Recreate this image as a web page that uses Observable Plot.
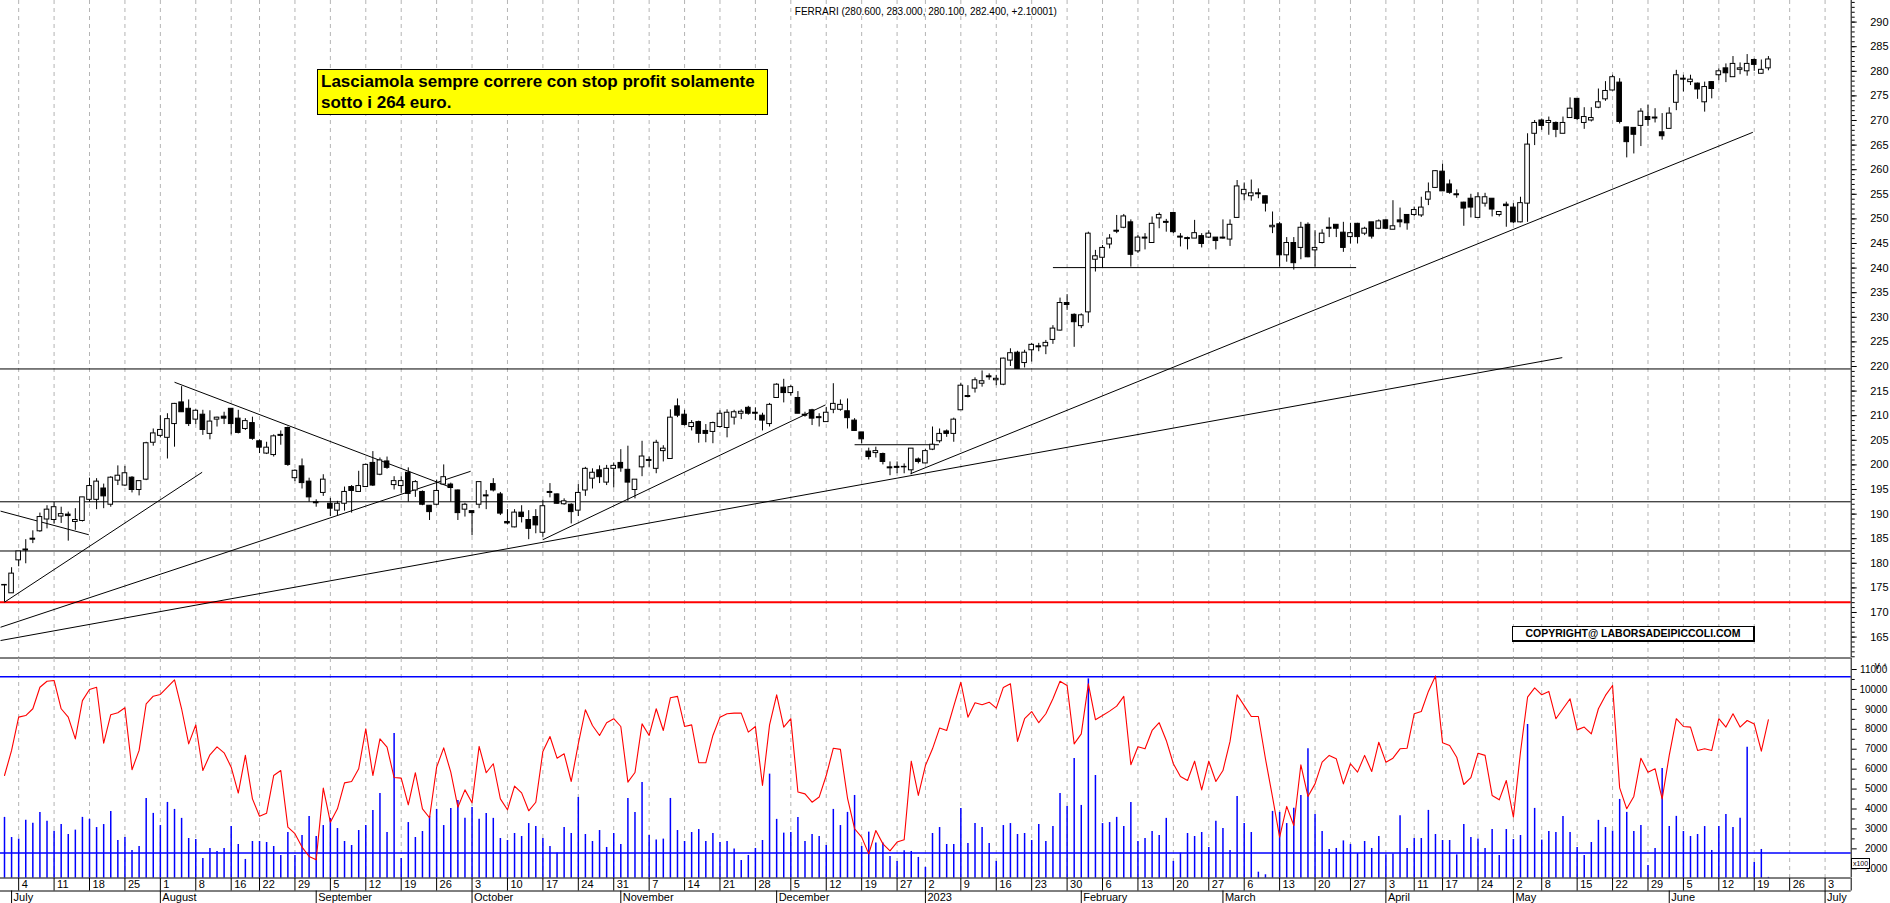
<!DOCTYPE html>
<html>
<head>
<meta charset="utf-8">
<script src="https://cdn.jsdelivr.net/npm/d3@7"></script>
<script src="https://cdn.jsdelivr.net/npm/@observablehq/plot@0.6"></script>
<style>
  html, body { margin:0; padding:0; background:#fff; }
  #chart { position:relative; width:1890px; height:903px; overflow:hidden; font-family:"Liberation Sans", Arial, sans-serif; }
  #chart svg { display:block; }
  .note { position:absolute; left:317px; top:69px; width:446px; height:43px; background:#ffff00; border:1.5px solid #000;
          font-weight:bold; font-size:17px; line-height:21px; padding:1px 0 0 3px; color:#000; white-space:nowrap; }
  .copy { position:absolute; left:1512px; top:626px; width:240px; height:13px; border:1px solid #000; border-right-width:2px; border-bottom-width:2px;
          background:#fff; font-weight:bold; font-size:10.5px; line-height:13px; text-align:center; color:#000; white-space:nowrap; }
  .x100 { position:absolute; left:1851px; top:858px; width:17px; height:9px; border:1px solid #000; background:#fff;
          font-size:7px; line-height:9px; text-align:center; color:#000; }
</style>
</head>
<body>
<div id="chart"></div>
<script>
// ---------- data ----------
const opens = [
175.5,173.9,180.6,182.8,185.0,186.5,188.9,188.8,189.5,189.9,
188.4,188.6,192.9,192.9,195.2,191.9,196.8,195.8,197.4,194.9,
197.0,204.5,205.9,205.5,208.3,212.7,211.4,209.2,210.2,206.3,
209.2,209.8,211.4,209.4,207.3,208.5,204.8,202.3,202.0,206.1,
207.5,197.3,199.7,196.6,192.4,194.3,192.1,190.7,192.1,195.5,
194.5,195.5,200.4,198.0,200.7,195.9,195.7,198.4,194.8,194.5,
191.7,191.9,196.0,196.0,194.8,190.9,190.6,191.9,193.8,196.1,
194.0,188.4,187.3,190.3,188.8,189.4,186.2,194.5,194.0,192.0,
191.9,190.7,194.8,197.2,198.9,196.4,199.2,200.4,199.0,194.9,
199.5,200.8,199.2,202.8,201.2,211.9,210.2,207.7,208.7,206.9,
206.7,207.7,207.5,209.6,210.4,211.6,210.6,210.0,208.3,213.6,
215.7,214.6,213.6,210.2,211.1,209.7,208.7,211.2,211.2,210.9,
209.0,206.6,202.7,202.4,202.2,199.5,199.6,199.6,198.9,201.1,
200.3,203.1,204.8,206.8,206.3,211.1,214.0,215.5,216.5,218.0,
217.2,216.3,221.2,222.8,220.7,223.3,224.1,224.1,225.4,227.3,
232.9,230.5,228.2,231.0,241.7,242.1,244.8,247.6,248.2,249.3,
243.4,246.2,245.1,250.1,249.4,251.2,246.4,246.1,246.0,246.5,
246.2,246.2,246.2,245.8,250.2,255.0,254.6,255.2,254.6,248.3,
248.9,242.6,245.1,244.1,248.8,243.6,245.1,248.2,248.8,247.2,
246.3,249.0,247.0,249.3,248.0,249.7,247.8,249.7,250.8,250.8,
250.7,253.9,256.3,259.6,257.0,255.0,253.3,254.1,250.2,253.1,
254.1,250.8,252.9,252.3,249.3,253.1,267.3,270.0,269.5,269.5,
267.3,270.5,274.4,269.5,270.0,272.6,274.3,276.1,277.7,268.6,
268.5,268.9,270.7,270.6,267.6,268.3,273.6,278.5,277.8,277.5,
273.7,277.8,279.2,280.6,278.8,280.3,280.0,282.3,279.5,280.6];
const highs = [
175.7,179.1,182.4,184.8,186.6,190.2,191.7,192.4,191.4,190.4,
191.1,193.4,197.3,197.2,196.1,197.6,199.8,199.7,197.6,196.8,
204.6,207.3,210.0,210.4,212.5,215.9,213.2,211.2,211.1,211.0,
209.7,210.7,211.4,211.1,209.4,209.7,205.1,204.6,206.1,206.9,
207.7,199.0,201.2,197.3,192.9,198.0,193.2,192.6,195.5,195.8,
198.7,200.2,202.7,201.4,201.6,197.6,197.6,199.4,196.8,194.7,
191.7,196.9,200.0,196.3,194.9,192.2,190.6,196.5,194.8,197.2,
194.4,190.9,190.9,191.7,190.7,190.9,192.8,196.2,194.1,193.1,
192.1,196.0,199.5,199.2,199.8,199.9,200.4,203.1,203.8,197.0,
204.8,201.6,205.0,203.9,211.2,213.4,211.1,209.0,208.9,208.2,
208.7,211.0,211.2,211.1,211.2,211.9,211.6,210.5,212.5,216.5,
217.4,216.1,214.9,210.7,211.3,210.4,211.7,216.5,213.2,213.4,
209.4,206.6,203.4,203.6,202.4,200.6,200.6,200.2,203.3,201.4,
203.1,207.7,207.3,207.1,209.5,216.6,216.1,217.7,219.1,218.5,
218.2,221.7,223.6,223.1,223.3,224.7,224.7,225.3,228.3,233.9,
234.6,230.7,230.7,247.3,243.6,244.6,246.8,250.7,250.9,249.8,
246.6,247.0,250.4,251.2,249.9,251.2,247.0,246.3,249.7,247.0,
247.6,246.2,249.8,249.8,257.8,257.3,257.9,256.1,254.6,251.4,
249.3,246.2,246.2,249.3,249.2,247.6,247.8,250.2,248.8,249.3,
249.1,249.1,248.3,249.3,249.8,249.8,253.7,252.2,250.8,252.4,
254.4,257.3,259.8,261.1,257.9,255.9,253.4,255.0,255.3,255.2,
254.1,251.5,253.4,253.1,254.4,267.3,270.0,270.3,270.7,269.7,
270.7,274.6,274.4,272.6,272.6,276.4,277.9,279.2,278.5,268.6,
268.5,272.4,273.1,272.4,271.4,272.6,280.2,279.2,279.2,277.6,
277.8,277.9,280.5,281.5,283.0,281.7,283.4,282.5,282.3,283.0];
const lows = [
172.1,173.9,179.3,179.9,184.0,186.3,187.0,188.0,188.1,184.5,
186.7,188.4,192.4,190.9,191.1,191.4,195.8,195.6,194.3,193.7,
196.8,203.8,205.5,201.2,203.6,210.7,207.8,208.2,206.0,205.1,
207.7,208.2,206.1,206.3,207.0,205.0,202.3,202.1,201.6,204.0,
199.7,196.6,195.1,192.4,191.4,193.6,189.5,189.6,190.6,190.2,
194.5,195.5,195.6,197.8,199.1,194.9,194.1,192.4,193.4,191.7,
188.7,191.7,195.8,192.4,188.7,189.4,185.6,191.1,190.9,194.5,
189.7,187.8,187.2,188.2,184.8,186.0,185.3,193.3,192.0,191.8,
188.0,189.5,193.6,195.1,196.2,195.8,195.3,198.5,192.6,193.1,
197.6,199.5,198.2,200.6,201.2,209.6,207.9,206.9,204.4,204.5,
204.3,207.5,205.5,208.1,209.2,210.1,209.0,206.9,207.7,213.6,
212.6,214.0,210.4,209.7,208.0,207.7,208.7,210.4,210.9,207.3,
206.9,204.3,201.0,201.4,200.0,197.8,198.2,198.2,198.0,200.2,
200.2,202.9,204.4,205.6,204.6,211.1,213.6,214.6,215.8,217.2,
216.1,216.1,220.0,219.5,219.7,220.9,223.0,222.4,224.5,227.2,
231.4,223.9,227.7,228.8,239.2,239.9,243.9,247.0,248.0,240.2,
243.0,243.7,245.1,248.0,247.3,247.0,244.3,243.7,246.0,244.1,
246.0,243.7,245.9,244.4,250.2,253.7,253.6,254.1,251.4,247.0,
240.2,241.2,239.6,241.7,242.1,240.2,244.9,246.2,246.2,243.2,
244.9,244.9,246.6,245.9,247.8,247.8,247.8,248.2,247.7,250.5,
250.3,252.7,256.3,255.6,255.0,254.2,248.5,250.2,250.2,252.4,
250.4,250.4,248.3,249.0,249.2,249.3,264.9,268.0,267.0,266.5,
267.3,270.5,270.0,268.2,269.7,272.4,273.9,276.0,269.3,262.4,
263.2,264.7,268.8,269.5,266.0,268.3,272.0,275.8,277.1,274.3,
271.7,274.4,278.1,277.7,278.8,279.3,279.0,280.0,279.4,280.1];
const closes = [
175.6,177.9,182.4,182.6,184.8,189.4,190.9,191.4,190.0,189.6,
188.8,193.4,195.7,196.6,193.6,197.4,197.8,198.3,194.9,196.7,
204.4,206.4,207.1,209.3,212.4,210.7,208.3,211.0,207.1,208.8,
209.6,209.4,208.3,206.5,208.9,205.3,203.5,203.5,205.8,205.9,
200.0,198.8,196.3,193.4,192.2,197.0,191.1,192.1,194.5,194.7,
195.7,200.0,195.8,200.9,199.4,196.7,196.7,194.1,196.5,191.9,
190.4,194.7,197.5,195.3,190.2,191.9,190.2,196.5,193.6,194.8,
190.1,188.1,190.3,189.4,187.0,187.7,191.6,194.3,192.1,192.6,
190.4,194.3,199.2,198.4,197.5,199.2,199.8,199.3,196.4,197.0,
201.7,201.0,204.5,203.3,209.6,210.0,208.1,208.5,206.3,206.3,
208.5,210.4,210.6,210.7,210.8,210.4,210.4,209.0,212.2,216.3,
214.6,215.8,210.4,210.0,209.4,209.5,210.6,212.4,212.2,209.5,
206.9,205.2,201.6,202.8,200.6,199.3,199.4,199.5,203.3,200.6,
202.8,204.1,206.3,206.3,209.2,216.1,213.8,217.2,217.0,217.8,
217.5,221.6,222.7,219.5,222.8,224.4,223.9,224.8,227.7,232.9,
232.5,229.0,230.4,247.0,242.4,244.1,246.0,247.4,250.5,242.7,
246.2,246.0,249.0,250.8,249.2,247.3,246.2,245.9,247.1,244.9,
247.0,245.5,246.0,248.8,256.6,255.9,255.2,255.0,253.1,248.6,
242.6,245.1,241.0,248.2,242.2,244.1,247.0,248.0,248.0,244.1,
247.1,246.3,248.0,246.4,249.5,248.0,248.5,249.3,249.1,251.8,
252.3,255.4,259.7,255.6,255.3,254.8,252.1,252.3,254.4,254.4,
251.9,251.4,252.6,249.3,253.2,265.1,269.5,268.9,269.9,268.1,
269.5,272.4,270.3,270.7,270.5,273.7,276.0,278.8,269.7,265.6,
267.1,271.8,270.1,270.4,266.8,271.4,279.2,278.3,278.3,276.3,
276.8,276.4,280.0,279.6,281.5,280.6,281.5,281.3,280.3,282.4];
// volume (x100)
const volumes = [
3580,2570,2490,3440,3290,3830,3390,2890,3220,2720,
2940,3580,3480,3070,3220,3880,2420,2570,1920,2120,
4530,3780,3170,4330,3980,3530,2520,2470,1520,2020,
1870,2020,3120,2220,1470,2370,2370,2320,2120,1670,
2820,1670,2670,3630,2620,3170,3530,3020,2370,2170,
2920,3170,3930,4780,2820,7790,1520,3320,2570,2870,
3630,3980,3170,4030,4430,3530,4080,3480,3780,3530,
2520,2420,2770,2620,3270,3120,2520,2120,1790,3070,
2770,4580,2720,2370,2920,2070,2770,2220,4530,3830,
5330,2670,2440,2490,4530,2920,2370,2820,2970,2370,
2770,2320,2370,1990,1420,1670,2020,2420,5750,3480,
2790,2820,3580,2370,2720,2620,2170,3980,3170,3830,
4680,2120,2840,2290,2290,1620,1370,1900,1870,1570,
1070,2770,3070,2220,2220,4030,2270,3270,3070,2270,
1370,3170,3270,2720,2770,2420,3220,2370,3120,4780,
4130,6540,4180,10530,5680,3270,3320,3580,3120,4330,
2370,2520,2870,2670,3530,1370,1790,2770,2620,2820,
2070,3380,3020,1920,4630,3270,2820,830,700,3880,
3830,3270,4040,4680,7020,3730,2870,1970,2020,2400,
2220,1770,2370,2020,2620,1700,1740,3660,2020,2520,
2520,3930,2720,2420,2420,1700,3220,2570,2490,2020,
2970,1670,2970,2470,2670,8240,4030,2440,2870,2820,
3630,2820,2070,1670,2320,3430,3070,2890,4480,3830,
2870,3170,1170,2020,6030,3120,3630,2870,2620,2720,
3120,1920,3120,3730,3070,3530,7100,1320,1970,570];
// red oscillator line, drawn on the volume scale
const oscillator = [
5680,6940,8610,8690,9030,10110,10410,10450,9030,8610,
7520,9440,10000,10110,7300,8730,8830,9080,5970,6940,
9280,9660,9750,10110,10480,9030,7270,8220,5930,6720,
7120,6820,6100,4800,6690,4510,3640,3790,5680,5930,
3090,2760,2090,1620,1450,5050,3340,4010,5310,5380,
6020,8020,5680,7520,7100,5580,5550,4210,5820,4010,
3560,6100,7070,5850,4090,4960,4310,7140,5820,6270,
4510,3960,5150,4810,3910,4340,6890,7640,6550,6770,
5380,7270,8980,8190,7690,8330,8530,8140,5350,5830,
8270,7690,9030,7940,9580,9650,8140,8220,6320,6320,
7690,8610,8780,8810,8810,7860,8140,5180,8220,9730,
8110,8530,4850,4760,4340,4600,5680,7050,6990,4550,
3010,2590,1750,2920,2250,1900,2340,2460,6400,4680,
6180,7020,8060,7940,9160,10360,8610,9330,9230,9360,
9060,10100,10280,7390,8530,8890,8330,8780,9530,10410,
10200,7270,7770,10280,8480,8690,8910,9160,9650,6220,
7120,7020,7940,8330,7440,6270,5630,5430,6400,4960,
6400,5380,5930,7390,9730,9190,8640,8640,6520,4600,
2590,4130,3170,6220,4630,5260,6350,6690,6520,5260,
6270,5850,6690,5880,7350,6350,6550,7020,7050,8780,
8890,9900,10670,7320,7190,6600,5230,5570,6800,6690,
4680,4460,5430,3590,6850,9610,10080,9730,9900,8530,
9030,9530,7970,8110,7770,9030,9700,10200,5060,4010,
4630,6550,5850,6020,4510,6690,8530,8140,8110,6940,
7020,6940,8530,8110,8780,8110,8440,8270,6900,8480];

// x axis: bar index of each weekly tick and month start
const weekLabels = ["4","11","18","25","1","8","16","22","29","5","12","19","26","3","10","17","24","31","7","14","21","28",
  "5","12","19","27","2","9","16","23","30","6","13","20","27","6","13","20","27","3","11","17","24","2","8","15","22","29",
  "5","12","19","26","3"];
const weekIndex = [2,7,12,17,22,27,32,36,41,46,51,56,61,66,71,76,81,86,91,96,101,106,
  111,116,121,126,130,135,140,145,150,155,160,165,170,175,180,185,190,195,199,203,208,213,217,222,227,232,
  237,242,247,252,257];
const monthLabels = ["July","August","September","October","November","December","2023","February","March","April","May","June","July"];
const monthIndex = [1,22,44,66,87,109,130,152,172,195,213,235,257];

// price levels and drawn trend lines (bar index, price)
const supportLevels = [219.5, 192.5, 182.5];
const redLevel = 172.1;
const trendLines = [
  {i1: 0,     p1: 172.1, i2: 27.9,  p2: 198.5},
  {i1: -0.56, p1: 190.6, i2: 11.9,  p2: 185.8},
  {i1: 24.0,  p1: 216.8, i2: 62.7,  p2: 195.6},
  {i1: -0.56, p1: 167.0, i2: 65.8,  p2: 198.7},
  {i1: -0.56, p1: 164.3, i2: 219.9, p2: 221.8},
  {i1: 76.0,  p1: 184.8, i2: 115.9, p2: 212.2},
  {i1: 120.0, p1: 204.1, i2: 131.9, p2: 204.1},
  {i1: 148.0, p1: 240.1, i2: 190.8, p2: 240.1},
  {i1: 127.9, p1: 198.2, i2: 246.8, p2: 267.6}
];
const oscLevels = [10630, 1790];
const priceTicks = d3.range(165, 291, 5);
const volTicks = d3.range(1000, 11001, 1000);
const title = "FERRARI (280.600, 283.000, 280.100, 282.400, +2.10001)";
const noteLines = ["Lasciamola sempre correre con stop profit solamente", "sotto i 264 euro."];
const copyright = "COPYRIGHT@ LABORSADEIPICCOLI.COM";

// ---------- layout ----------
const W = 1890, AXIS_X = 1850.7, FIRST_X = 4, BAR_PX = 7.084;
const xDomain = [-FIRST_X / BAR_PX, (AXIS_X - FIRST_X) / BAR_PX];
const priceDomain = [160.75, 294.39];
const volDomain = [538, 11552];
const HALF = 2.3 / BAR_PX;
const font = "'Liberation Sans', Arial, sans-serif";

const candles = opens.map((o, i) => ({i, open: o, high: highs[i], low: lows[i], close: closes[i]}));
const volData = volumes.map((v, i) => ({i, v}));
const oscData = oscillator.map((v, i) => ({i, v}));
const weekTicks = weekLabels.map((label, k) => ({label, i: weekIndex[k]}));
const monthTicks = monthLabels.map((label, k) => ({label, i: monthIndex[k]}));
const grid = {x: "i", stroke: "#b4b4b4", strokeDasharray: "4,4"};
const baseStyle = {fontFamily: font, fontSize: "11px", color: "#000", background: "#fff", overflow: "visible"};

const price = Plot.plot({
  width: W, height: 658, marginLeft: 0, marginRight: W - AXIS_X, marginTop: 0, marginBottom: 0.5,
  style: baseStyle,
  x: {domain: xDomain, axis: null},
  y: {domain: priceDomain, axis: null},
  marks: [
    Plot.ruleX(weekTicks, grid),
    Plot.ruleY(supportLevels, {stroke: "#000"}),
    Plot.ruleY([redLevel], {stroke: "#ff0000", strokeWidth: 2}),
    Plot.ruleY([priceDomain[0]], {stroke: "#000"}),
    Plot.link(trendLines, {x1: "i1", y1: "p1", x2: "i2", y2: "p2", stroke: "#000", strokeWidth: 1}),
    Plot.ruleX(candles, {x: "i", y1: "low", y2: "high", stroke: "#000"}),
    Plot.rect(candles, {x1: d => d.i - HALF, x2: d => d.i + HALF, y1: "open", y2: "close",
      fill: d => d.close >= d.open ? "#fff" : "#000", stroke: "#000", strokeWidth: 1}),
    Plot.axisY(d3.range(161, 295), {anchor: "right", tickSize: 3, fill: "none", stroke: "#000"}),
    Plot.axisY(priceTicks, {anchor: "right", tickSize: 5, tickPadding: 14, fontSize: 11, tickFormat: d => String(d)}),
    Plot.ruleX([xDomain[1]], {stroke: "#000"}),
    Plot.text([title], {frameAnchor: "top", dy: 7, fontSize: 10, fill: "#000"})
  ]
});

const volume = Plot.plot({
  width: W, height: 220, marginLeft: 0, marginRight: W - AXIS_X, marginTop: 0, marginBottom: 0.5,
  style: baseStyle,
  x: {domain: xDomain, axis: null},
  y: {domain: volDomain, axis: null},
  marks: [
    Plot.ruleX(weekTicks, grid),
    Plot.ruleX(volData, {x: "i", y1: volDomain[0], y2: "v", stroke: "#0000ff", strokeWidth: 1.5}),
    Plot.ruleY(oscLevels, {stroke: "#0000ff", strokeWidth: 1.5}),
    Plot.line(oscData, {x: "i", y: "v", stroke: "#ff0000", strokeWidth: 1.1}),
    Plot.ruleY([volDomain[0]], {stroke: "#000"}),
    Plot.axisY(d3.range(1500, 11001, 1000), {anchor: "right", tickSize: 3, fill: "none", stroke: "#000"}),
    Plot.axisY(volTicks, {anchor: "right", tickSize: 5, tickPadding: 31, textAnchor: "end", fontSize: 10, tickFormat: d => String(d)}),
    Plot.ruleX([xDomain[1]], {stroke: "#000"})
  ]
});

const xaxis = Plot.plot({
  width: W, height: 25, marginLeft: 0, marginRight: W - AXIS_X, marginTop: 0, marginBottom: 0,
  style: baseStyle,
  x: {domain: xDomain, axis: null},
  y: {domain: [0, 2], range: [0, 25], axis: null},
  marks: [
    Plot.ruleX(weekTicks, {x: "i", y1: 0, y2: 1, stroke: "#000"}),
    Plot.text(weekTicks, {x: "i", y: 0.5, text: "label", textAnchor: "start", dx: 3, fontSize: 11, fill: "#000"}),
    Plot.ruleY([1], {stroke: "#000"}),
    Plot.ruleX(monthTicks, {x: "i", y1: 1, y2: 2, stroke: "#000"}),
    Plot.text(monthTicks, {x: "i", y: 1.5, text: "label", textAnchor: "start", dx: 2, fontSize: 11, fill: "#000"}),
    Plot.ruleX([xDomain[1]], {y1: 0, y2: 1, stroke: "#000"})
  ]
});

const root = document.getElementById("chart");
root.append(price, volume, xaxis);

const note = document.createElement("div");
note.className = "note";
note.innerHTML = noteLines.map(t => `<div>${t}</div>`).join("");
root.append(note);

const copy = document.createElement("div");
copy.className = "copy";
copy.textContent = copyright;
root.append(copy);

const x100 = document.createElement("div");
x100.className = "x100";
x100.textContent = "x100";
root.append(x100);
</script>
</body>
</html>
